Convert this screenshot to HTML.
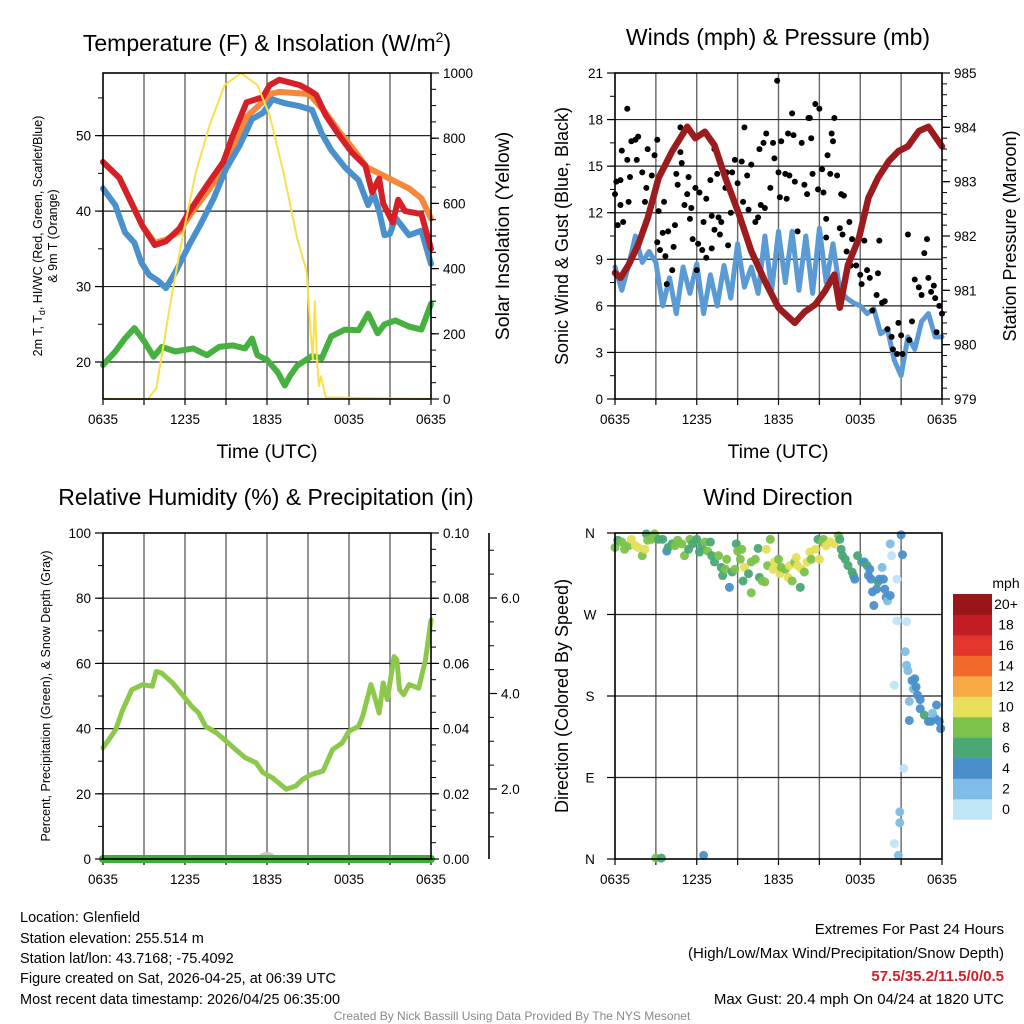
<!DOCTYPE html>
<html><head><meta charset="utf-8"><title>Glenfield Meteogram</title>
<style>
html,body{margin:0;padding:0;background:#fff;}
svg{display:block;font-family:"Liberation Sans",Arial,sans-serif;}
</style></head>
<body>
<svg id="chart" width="1024" height="1024" viewBox="0 0 1024 1024" xmlns="http://www.w3.org/2000/svg">
<rect x="0" y="0" width="1024" height="1024" fill="#fff"/>
<text x="267" y="51" font-size="23" text-anchor="middle">Temperature (F) &amp; Insolation (W/m<tspan font-size="14" dy="-9">2</tspan><tspan dy="9">)</tspan></text>
<text x="778" y="45" font-size="23" text-anchor="middle">Winds (mph) &amp; Pressure (mb)</text>
<text x="266" y="505" font-size="23" text-anchor="middle">Relative Humidity (%) &amp; Precipitation (in)</text>
<text x="778" y="505" font-size="23" text-anchor="middle">Wind Direction</text>

<text transform="translate(42,236) rotate(-90)" font-size="12.5" text-anchor="middle">2m T, T<tspan font-size="9" dy="3">d</tspan><tspan dy="-3">, HI/WC (Red, Green, Scarlet/Blue)</tspan></text>
<text transform="translate(57,236) rotate(-90)" font-size="12.5" text-anchor="middle">&amp; 9m T (Orange)</text>
<text transform="translate(509,236) rotate(-90)" font-size="19.5" text-anchor="middle">Solar Insolation (Yellow)</text>
<text x="267" y="458" font-size="19.5" text-anchor="middle">Time (UTC)</text>

<text transform="translate(568,236) rotate(-90)" font-size="18" text-anchor="middle">Sonic Wind &amp; Gust (Blue, Black)</text>
<text transform="translate(1016,236) rotate(-90)" font-size="18" text-anchor="middle">Station Pressure (Maroon)</text>
<text x="778" y="458" font-size="19.5" text-anchor="middle">Time (UTC)</text>

<text transform="translate(50,696) rotate(-90)" font-size="12.5" text-anchor="middle">Percent, Precipitation (Green), &amp; Snow Depth (Gray)</text>
<text transform="translate(568,696) rotate(-90)" font-size="18" text-anchor="middle">Direction (Colored By Speed)</text>

<g font-size="14.5">
<text x="20" y="922">Location: Glenfield</text>
<text x="20" y="943">Station elevation: 255.514 m</text>
<text x="20" y="963">Station lat/lon: 43.7168; -75.4092</text>
<text x="20" y="983">Figure created on Sat, 2026-04-25, at 06:39 UTC</text>
<text x="20" y="1004">Most recent data timestamp: 2026/04/25 06:35:00</text>
</g>
<g font-size="15" text-anchor="end">
<text x="1004" y="934">Extremes For Past 24 Hours</text>
<text x="1004" y="958">(High/Low/Max Wind/Precipitation/Snow Depth)</text>
<text x="1004" y="981" fill="#d3202a" font-weight="bold">57.5/35.2/11.5/0/0.5</text>
<text x="1004" y="1004">Max Gust: 20.4 mph On 04/24 at 1820 UTC</text>
</g>
<text x="512" y="1020" font-size="12" fill="#888" text-anchor="middle">Created By Nick Bassill Using Data Provided By The NYS Mesonet</text>
</svg>
<script>
// ---------- DATA ----------
const timeTickLabels = ['0635','1235','1835','0035','0635'];
const timeTickHours = [0,6,12,18,24];

const redHours = [0,1.2,2.9,3.8,4.6,5.6,6.3,7.6,8.8,9.5,10.5,11.7,12.2,12.9,14.4,15.1,15.6,16.3,17.3,18.2,19.2,19.7,20.2,20.5,21.2,21.6,22.1,23.3,24];
const redTemp = [46.5,44.4,38,35.5,36,37.7,39.9,43.4,46.5,50,54.4,55.1,56.7,57.4,56.7,56,55.4,52.7,50,47.8,46,42.5,44.3,41,38.5,41.5,40,39.6,35];
const orangeHours = [0,1.2,2.9,3.8,4.6,5.6,6.3,7.6,8.8,9.5,10.5,11.7,12.2,12.9,14.4,15.1,16.3,17.3,18.2,19.3,20,21.4,22.4,23.3,24];
const orangeTemp = [46.5,44.4,38,35.8,36.2,37.3,39.3,42.5,45.5,48.5,52.5,54.5,55.5,55.8,55.6,55.5,53,50.5,48.5,45.8,45.2,43.9,43,41.7,39];
const blueHours = [0,0.9,1.6,2.3,2.8,3.4,4.0,4.6,5.3,6.3,7.1,8.1,9,10,10.9,11.7,12.4,13.3,14.4,15.3,16,16.7,17.7,18.7,19.4,19.8,20.2,20.6,21.0,21.4,22.4,23.3,24];
const blueTemp = [43,40.8,37.2,35.8,33.2,31.5,30.8,29.8,31.9,35.5,38.1,41.7,45.6,48.7,52.2,53,54.8,54.3,53.9,53.4,50.3,48.1,45.8,44.1,40.8,42.3,40,36.8,37,39.1,36.8,37.4,33];
const dewHours = [0,0.9,1.6,2.3,3.0,3.7,4.3,5.3,6.6,7.6,8.5,9.5,10.4,10.9,11.3,12,12.8,13.3,13.7,14.2,15.3,16,16.7,17.7,18.7,19.4,20.1,20.6,21.4,22.4,23.3,24];
const dewTemp = [19.6,21.4,23.1,24.5,22.8,20.7,22,21.4,21.8,20.9,22,22.2,21.8,23.1,20.9,20.3,18.6,16.9,18.2,19.5,20.8,20.5,23.4,24.3,24.2,26.4,23.8,25,25.5,24.7,24.3,27.7];
const solarHours = [0,3.3,3.9,4.3,5,5.8,6.8,7.8,8.9,10.1,11.3,12.2,13.2,14.2,14.9,15.2,15.35,15.5,15.65,15.8,15.95,16.3,24];
const solarWm2 = [0,0,33,134,310,494,696,840,963,1000,963,870,696,494,392,200,125,300,125,40,70,5,0];
const tempTicks = [20,30,40,50];
const solarTicks = [0,200,400,600,800,1000];

const windHours = [0,0.5,1,1.5,2,2.5,3,3.5,4,4.5,5,5.5,6,6.5,7,7.5,8,8.5,9,9.5,10,10.5,11,11.5,12,12.5,13,13.5,14,14.5,15,15.5,16,16.5,17,17.5,18,18.5,19,19.5,20,20.5,21,21.5,22,22.5,23,23.5,24];
const windMph = [8.5,7,8.6,10.5,8.8,9.5,8.8,6,7.8,5.5,8.5,6.8,8.7,5.5,8,6,8.6,6.5,10,7.2,8.5,6.8,10.5,7,10.8,7.5,10.8,7,10.5,6.8,11,7.5,10,7,6.5,6.2,6,5.5,5.8,4.2,4.5,2.5,1.5,4,3.2,5,5.5,4,4];
const gustHours = [0,0.1,0.2,0.4,0.4,0.6,0.5,0.9,1.0,1.1,0.9,1.2,1.5,1.7,1.6,2.0,2.2,2.3,2.4,2.7,2.9,3.1,3.2,3.1,3.3,3.5,3.6,3.7,3.8,3.9,4.2,4.3,4.4,4.5,4.6,4.8,4.8,4.9,5.1,5.3,5.4,5.5,5.6,5.7,5.9,6.0,6.1,6.2,6.4,6.5,6.7,6.7,7.0,7.1,7.1,7.3,7.3,7.5,7.6,7.7,7.8,8.1,8.2,8.3,8.5,8.6,8.8,9.0,9.3,9.4,9.5,9.7,9.8,10.0,10.3,10.5,10.6,10.7,10.9,11.0,11.1,11.4,11.6,11.7,11.9,12.0,12.1,12.2,12.5,12.6,12.7,12.8,13.0,13.1,13.2,13.4,13.7,13.9,14.1,14.2,14.3,14.4,14.5,14.7,14.9,15.0,15.2,15.3,15.5,15.5,15.6,15.8,15.9,16.0,16.1,16.3,16.5,16.6,16.7,16.8,17.0,17.2,17.3,17.4,17.7,18.0,18.1,18.3,18.5,18.7,18.9,19.2,19.3,19.4,19.6,19.8,20.0,20.3,20.4,20.7,20.8,21.0,21.1,21.5,21.6,21.8,22.0,22.3,22.5,22.7,22.9,23.0,23.2,23.4,23.5,23.6,23.8,24.0];
const gustMph = [13.2,14.0,11.2,12.5,14.1,11.4,16.0,18.7,12.7,14.3,15.4,16.6,16.7,16.9,15.4,14.6,12.7,13.6,16.1,14.4,15.7,16.7,12.1,10.1,9.6,10.7,12.7,9.2,7.4,10.8,8.3,9.8,11.2,14.5,13.8,15.9,17.5,15.2,12.5,13.2,14.3,11.6,12.3,10.3,13.6,8.3,10.0,13.3,9.6,11.4,9.1,12.9,14.1,9.7,11.8,16.1,10.9,14.5,11.7,10.6,11.4,13.6,14.6,9.9,12.0,14.6,15.4,13.9,15.3,12.7,17.5,14.4,12.2,15.1,11.4,11.7,16.1,12.5,16.5,12.3,17.1,13.6,16.5,15.5,20.5,14.6,13.0,16.6,14.5,12.9,17.1,14.4,18.4,17.0,14.0,10.8,16.5,13.8,13.2,18.1,18.1,16.8,14.5,19.0,13.5,18.7,14.8,13.3,10.4,11.6,15.7,14.5,17.1,16.6,18.1,14.4,11.0,13.2,10.6,13.1,9.5,11.4,8.6,10.3,8.6,8.0,7.4,10.2,8.3,7.8,5.7,6.7,8.1,10.2,6.2,6.3,4.5,4.0,3.2,2.9,4.9,4.1,2.9,10.6,3.8,5.0,7.7,7.2,6.7,9.4,10.3,7.8,6.9,7.3,6.5,4.3,6.0,5.5];
const pressHours = [0,0.4,1,1.7,2.4,3.2,4.2,5.3,5.9,6.6,7.3,8.1,9.1,10,11,12,13.2,13.9,14.7,15.4,16.1,16.5,17.1,17.9,18.6,19.3,20.1,20.8,21.5,22.3,23,24];
const pressMb = [981.32,981.23,981.47,981.84,982.33,983.07,983.56,984.01,983.8,983.92,983.67,983.07,982.4,981.72,981.17,980.68,980.4,980.6,980.74,980.98,981.29,980.68,981.47,981.96,982.7,983.07,983.38,983.56,983.65,983.93,984.01,983.65];
const windTicks = [0,3,6,9,12,15,18,21];
const pressTicks = [979,980,981,982,983,984,985];

const rhHours = [0,0.44,0.93,1.4,2.1,2.9,3.6,3.9,4.3,5.1,5.8,6.5,7,7.5,8.3,9,9.7,10.4,11.2,11.7,12.4,13.4,14.1,14.6,15.3,16.1,16.8,17.5,18,18.7,19,19.6,19.8,20.2,20.5,20.8,21.3,21.5,21.7,22,22.4,23.1,23.6,24];
const rhPct = [34.1,36.7,39.7,45.3,51.9,53.5,53,57.5,57,54,50.4,46.8,44.8,40.7,38.7,36.2,33.6,31.1,29.5,26.5,24.9,21.4,22.4,24.4,26,27,33.6,35.6,39.2,40.7,43.8,53.5,50.9,44.8,54,48.9,62.1,61.1,51.9,50.4,53.5,52.4,61.1,73.3];
const precipHours = [0,24];
const precipIn = [0,0];
const snowHours = [12];
const snowDepth = [0.5];
const rhTicks = [0,20,40,60,80,100];
const precipTicks = [0,0.02,0.04,0.06,0.08,0.10];
const snowTicks = [2,4,6];

const dirHours = [0,0.2,0.5,0.7,1.0,1.2,1.5,1.7,2.0,2.2,2.3,2.4,2.7,2.9,3.2,3.5,3.8,3.9,4.2,4.4,4.6,4.9,5.1,5.4,5.5,5.7,6.0,6.2,6.4,6.6,6.8,7.0,7.1,7.3,7.6,7.8,7.9,8.1,8.2,8.4,8.6,8.8,8.9,9.0,9.2,9.3,9.4,9.5,9.8,10.0,10.0,10.3,10.5,10.6,10.8,11.0,11.1,11.2,11.4,11.6,11.7,12.0,12.1,12.2,12.5,12.7,12.8,13.0,13.2,13.3,13.4,13.6,13.7,13.9,14.1,14.3,14.4,14.7,14.9,15.0,15.2,15.3,15.5,15.8,16.1,16.4,16.5,16.6,16.7,16.9,17.1,17.4,17.5,17.6,17.8,18.1,18.3,18.5,18.6,18.7,18.8,18.9,19.0,19.2,19.3,19.4,19.6,19.7,19.8,19.9,20.0,20.2,20.2,20.3,20.5,20.7,20.7,21.0,21.1,21.4,21.3,21.4,21.5,21.8,21.9,22.0,22.1,22.2,22.4,21.6,21.6,22.4,22.7,23.0,23.2,23.5,23.6,23.3,23.8,23.9,21.2,20.9,20.9,20.5,20.8,3.0,3.4,6.5];
const dirDeg = [344,352,350,342,346,353,346,344,335,342,359,352,353,359,353,353,340,344,348,346,352,348,335,342,353,348,353,339,346,350,340,350,335,328,335,322,313,320,331,300,317,320,348,340,331,342,307,322,315,294,328,331,343,311,307,306,342,324,353,320,328,331,315,322,320,311,324,307,328,333,324,300,320,317,328,339,331,342,353,331,350,353,346,350,348,357,353,342,335,331,324,317,313,309,335,328,328,324,313,320,309,295,280,298,306,309,322,309,298,289,285,291,348,335,192,263,309,358,336,262,229,214,208,197,188,199,190,181,176,174,153,166,159,152,152,155,170,161,152,144,100,52,40,17,4,1,1,4];
const dirSpeed = [8,6,8,8,8,10,10,10,8,10,6,8,8,8,6,6,4,6,6,8,8,8,8,6,8,6,6,6,6,8,8,6,6,6,8,6,6,8,8,4,6,8,6,8,8,8,6,10,6,8,8,8,6,6,8,8,10,8,8,10,10,8,10,8,8,10,10,8,8,10,10,6,10,8,10,10,8,10,6,10,8,8,10,10,10,8,6,6,6,6,6,6,6,4,6,6,4,6,4,4,4,4,4,4,6,4,2,4,4,4,2,4,2,0,0,0,0,4,4,0,2,2,2,4,2,4,4,4,4,2,4,4,6,4,4,4,4,2,4,4,0,2,2,0,2,8,6,4];
const dirTickLabels = ['N','E','S','W','N'];
const dirTickDeg = [0,90,180,270,360];
const speedBins = [0,2,4,6,8,10,12,14,16,18,20];
const speedLabels = ['0','2','4','6','8','10','12','14','16','18','20+'];
const speedColors = ['#bfe5f7','#80bde6','#4a8fca','#4aa874','#7cc24a','#e6df5a','#f6a944','#f26a2b','#e2352b','#c21d27','#981519'];

// ---------- HELPERS ----------
const NS = 'http://www.w3.org/2000/svg';
const svg = document.getElementById('chart');
function make(tag, attrs, parent) {
  const e = document.createElementNS(NS, tag);
  for (const k in attrs) e.setAttribute(k, attrs[k]);
  (parent || svg).appendChild(e);
  return e;
}
function lin(d0, d1, r0, r1) { return v => r0 + (v - d0) / (d1 - d0) * (r1 - r0); }
function group(name) {
  const g = make('g', {});
  
  
  return g;
}

const P1 = {x0:103, x1:431, y0:73, y1:399};
const P2 = {x0:615, x1:942, y0:73, y1:399};
const P3 = {x0:103, x1:431, y0:533, y1:859};
const P4 = {x0:615, x1:942, y0:533, y1:859};
const xs = p => lin(0, 24, p.x0, p.x1);

function frame(p, name, hGridVals, yScale) {
  const g = group(name + '-grid');
  const x = xs(p);
  for (let h = 3; h < 24; h += 3) {
    const ln = make('line', {x1:x(h), x2:x(h), y1:p.y0, y2:p.y1, stroke:'#666', 'stroke-width':1.4}, g);
    
    
  }
  hGridVals.forEach(v => {
    const ln = make('line', {x1:p.x0, x2:p.x1, y1:yScale(v), y2:yScale(v), stroke:'#222', 'stroke-width':1.2}, g);
    
    
  });
  const ag = group(name + '-x-axis');
  for (let h = 0; h <= 24; h += 3) {
    const t = make('line', {x1:x(h), x2:x(h), y1:p.y1, y2:p.y1 + 6, stroke:'#000', 'stroke-width':1.2}, ag);
    
    
  }
  timeTickHours.forEach((h, i) => {
    const t = make('text', {x:x(h), y:p.y1 + 25, 'font-size':13.5, 'text-anchor':'middle'}, ag);
    t.textContent = timeTickLabels[i];
    
    
  });
}
function border(p, name) {
  const r = make('rect', {x:p.x0, y:p.y0, width:p.x1 - p.x0, height:p.y1 - p.y0, fill:'none', stroke:'#000', 'stroke-width':1.6});
  
  
}
function yAxis(p, side, scale, minorFrom, minorTo, minorStep, labVals, labFmt, name, axisX) {
  const g = group(name);
  const ax = axisX !== undefined ? axisX : (side === 'left' ? p.x0 : p.x1);
  const dir = side === 'left' ? -1 : 1;
  for (let v = minorFrom; v <= minorTo + 1e-9; v += minorStep) {
    const y = scale(v);
    if (y < p.y0 - 0.5 || y > p.y1 + 0.5) continue;
    const t = make('line', {x1:ax, x2:ax + dir * 5, y1:y, y2:y, stroke:'#000', 'stroke-width':1}, g);
    
    
  }
  labVals.forEach(v => {
    const y = scale(v);
    const t = make('line', {x1:ax, x2:ax + dir * 8, y1:y, y2:y, stroke:'#000', 'stroke-width':1.2}, g);
    
    
    const tx = make('text', {x:ax + dir * 12, y:y + 5, 'font-size':13.5, 'text-anchor': side === 'left' ? 'end' : 'start'}, g);
    tx.textContent = labFmt(v);
    
    
  });
}
function path(xsArr, ysArr, xScale, yScale, color, width, name) {
  let d = '';
  xsArr.forEach((h, i) => { d += (i ? 'L' : 'M') + xScale(h).toFixed(1) + ',' + yScale(ysArr[i]).toFixed(1); });
  const p = make('path', {d:d, fill:'none', stroke:color, 'stroke-width':width, 'stroke-linejoin':'round', 'stroke-linecap':'round'});
  
  
  return p;
}

// ---------- PANEL 1 ----------
const tY = lin(15.1, 58.3, 399, 73);
const sY = lin(0, 1000, 399, 73);
const x1s = xs(P1);
frame(P1, 'temperature', tempTicks, tY);
path(dewHours, dewTemp, x1s, tY, '#46b040', 6, 'dewpoint-line');
path(orangeHours, orangeTemp, x1s, tY, '#f5883a', 6, 'temp-9m-line');
path(blueHours, blueTemp, x1s, tY, '#4a90cc', 6, 'windchill-line');
path(redHours, redTemp, x1s, tY, '#d62027', 6, 'temp-2m-line');
path(solarHours, solarWm2, x1s, sY, '#f9e04b', 2, 'insolation-line');
border(P1, 'temperature');
yAxis(P1, 'left', tY, 20, 55, 5, tempTicks, v => String(v), 'temperature-y-axis');
yAxis(P1, 'right', sY, 0, 1000, 50, solarTicks, v => String(v), 'insolation-y-axis');

// ---------- PANEL 2 ----------
const wY = lin(0, 21, 399, 73);
const pY = lin(979, 985, 399, 73);
const x2s = xs(P2);
frame(P2, 'wind', [3,6,9,12,15,18], wY);
path(windHours, windMph, x2s, wY, '#5b9bd5', 5, 'sonic-wind-line');
const gg = group('gust-points');
gustHours.forEach((h, i) => {
  const c = make('circle', {cx:x2s(h), cy:wY(gustMph[i]), r:3, fill:'#000'}, gg);
  
  
});
path(pressHours, pressMb, x2s, pY, '#9b1b1e', 6.5, 'pressure-line');
border(P2, 'wind');
yAxis(P2, 'left', wY, 0, 21, 1.5, windTicks, v => String(v), 'wind-y-axis');
yAxis(P2, 'right', pY, 979, 985, 0.2, pressTicks, v => String(v), 'pressure-y-axis');

// ---------- PANEL 3 ----------
const rY = lin(0, 100, 859, 533);
const prY = lin(0, 0.1, 859, 533);
const snY = lin(0, 2, 884.5, 789);
const x3s = xs(P3);
frame(P3, 'humidity', [20,40,60,80], rY);
path(rhHours, rhPct, x3s, rY, '#8cc84b', 5, 'humidity-line');
snowHours.forEach((h, i) => {
  const e = make('ellipse', {cx:x3s(h), cy:snY(snowDepth[i]) > 859 ? 857 : snY(snowDepth[i]), rx:8, ry:5, fill:'#c8c8c8'});
  
  
});
path(precipHours, precipIn, x3s, prY, '#3fae3a', 8, 'precipitation-line');
border(P3, 'humidity');
yAxis(P3, 'left', rY, 0, 100, 10, rhTicks, v => String(v), 'humidity-y-axis');
yAxis(P3, 'right', prY, 0, 0.1, 0.005, precipTicks, v => v.toFixed(2), 'precipitation-y-axis');
const snAxis = make('line', {x1:489, x2:489, y1:533, y2:859, stroke:'#000', 'stroke-width':1.6});


yAxis(P3, 'right', snY, 0.5, 7.5, 0.5, snowTicks, v => v.toFixed(1), 'snow-depth-y-axis', 489);

// ---------- PANEL 4 ----------
const dY = lin(0, 360, 859, 533);
const x4s = xs(P4);
frame(P4, 'direction', [90,180,270], dY);
function speedColor(s) {
  let idx = 0;
  speedBins.forEach((b, i) => { if (s >= b) idx = i; });
  return speedColors[idx];
}
const dg = group('direction-points');
dirHours.forEach((h, i) => {
  const c = make('circle', {cx:x4s(h), cy:dY(dirDeg[i]), r:4.5, fill:speedColor(dirSpeed[i]), 'fill-opacity':0.95}, dg);
  
  
});
border(P4, 'direction');
const dAx = group('direction-y-axis');
dirTickDeg.forEach((d, i) => {
  const t = make('line', {x1:P4.x0, x2:P4.x0 - 8, y1:dY(d), y2:dY(d), stroke:'#000', 'stroke-width':1.2}, dAx);
  
  
  const tx = make('text', {x:590, y:dY(d) + 5, 'font-size':13.5, 'text-anchor':'middle'}, dAx);
  tx.textContent = dirTickLabels[i];
  
  
});

// colorbar
const cb = group('speed-colorbar');
const cbTitle = make('text', {x:1006, y:588, 'font-size':14, 'text-anchor':'middle'}, cb);
cbTitle.textContent = 'mph';


const boxH = 20.5;
speedBins.forEach((b, i) => {
  const k = speedBins.length - 1 - i;
  const y = 594 + k * boxH;
  const r = make('rect', {x:953, y:y, width:39, height:boxH + 0.3, fill:speedColors[i]}, cb);
  
  
  const t = make('text', {x:1006, y:y + 15, 'font-size':14, 'text-anchor':'middle'}, cb);
  t.textContent = speedLabels[i];
  
  
});
</script>
</body></html>
